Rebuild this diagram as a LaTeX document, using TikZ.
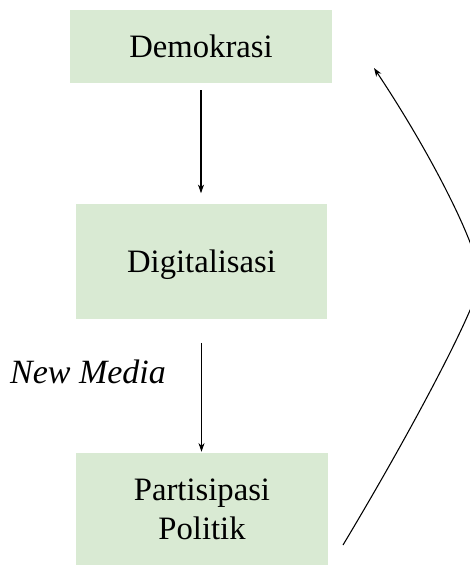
\documentclass[tikz,border=0pt]{standalone}
\usepackage{fontspec}
\setmainfont{Liberation Serif}
\usetikzlibrary{positioning,calc,arrows.meta}
\tikzset{>={Stealth[length=6.5pt,width=4.5pt]}}
\definecolor{boxgreen}{HTML}{D9EAD3}

\begin{document}
\begin{tikzpicture}[x=0.75pt,y=-0.75pt,
  box/.style={fill=boxgreen,inner sep=0pt,text depth=0pt,align=center,font=\fontsize{24.5}{29}\selectfont},
  flow/.style={->,line width=0.8pt}]
\useasboundingbox (0,0) rectangle (470,565);
\node[box,minimum width=196.5pt,minimum height=54.75pt] (demo) at (201,46.5) {Demokrasi};
\node[box,minimum width=188.25pt,minimum height=86.25pt] (digi) at (201.5,261) {Digitalisasi};
\node[box,minimum width=189pt,minimum height=84pt] (part) at (202,509) {Partisipasi\\Politik};
\node[font=\fontsize{25.5}{29}\selectfont\itshape] (media) at (88,372) {New Media};
\draw[flow,shorten <=5.25pt,shorten >=7.5pt] (demo.south) -- (demo.south |- digi.north);
\draw[flow,shorten <=18pt,shorten >=0.75pt] (digi.south) -- (digi.south |- part.north);
\coordinate (loopstart) at (343,545);
\coordinate (looptip) at (374,68);
\draw[flow] (loopstart) .. controls (418,420) and (480,300) .. (480,280) .. controls (480,250) and (432,155) .. (looptip);
\end{tikzpicture}
\end{document}
